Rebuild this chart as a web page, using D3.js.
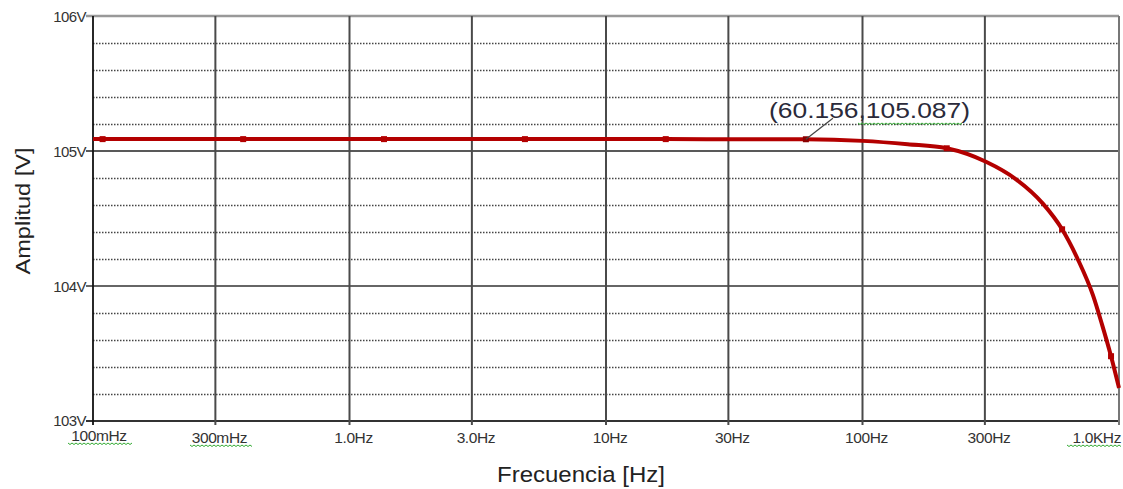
<!DOCTYPE html>
<html>
<head>
<meta charset="utf-8">
<script src="https://cdn.jsdelivr.net/npm/d3@7"></script>
<style>
  html, body { margin: 0; padding: 0; background: #fff; }
  svg { display: block; }
</style>
</head>
<body>
<svg id="chart" width="1123" height="489"></svg>
<script>
// ---- data ----
const freqs = [0.1, 0.109, 0.385, 1.363, 4.83, 17.1, 60.156, 100, 150, 213, 303, 397, 505, 600, 690, 792, 860, 931, 1000];
const amps  = [105.088, 105.088, 105.088, 105.088, 105.088, 105.088, 105.087, 105.075, 105.05, 105.02, 104.92, 104.79, 104.61, 104.42, 104.20, 103.93, 103.71, 103.48, 103.245];
const markerFreqs = [0.109, 0.385, 1.363, 4.83, 17.1, 60.156, 213, 600, 931];
const xTickValues = [0.1, 0.3, 1, 3, 10, 30, 100, 300, 1000];
const xTickLabels = ["100mHz", "300mHz", "1.0Hz", "3.0Hz", "10Hz", "30Hz", "100Hz", "300Hz", "1.0KHz"];
const yTickValues = [103, 104, 105, 106];
const yTickLabels = ["103V", "104V", "105V", "106V"];
const cursorFreq = 60.156;
const cursorAmp = 105.087;
const cursorLabel = "(60.156,105.087)";
const xTitle = "Frecuencia [Hz]";
const yTitle = "Amplitud [V]";

// ---- scales ----
const svg = d3.select("#chart");
const x = d3.scaleLog().domain([0.1, 1000]).range([93, 1119]);
const y = d3.scaleLinear().domain([103, 106]).range([421, 16]);

const font = "'Liberation Sans', Arial, sans-serif";

// minor dotted grid
const minor = d3.range(103.2, 106, 0.2).filter(v => Math.abs(v - Math.round(v)) > 0.01);
svg.append("g").selectAll("line").data(minor).join("line")
  .attr("x1", x(0.1)).attr("x2", x(1000))
  .attr("y1", d => Math.round(y(d)) + 0.5).attr("y2", d => Math.round(y(d)) + 0.5)
  .attr("stroke", "#444").attr("stroke-width", 1.6).attr("stroke-dasharray", "1.5,1.5");

// major horizontal grid
const majorStyle = {103: ["#333", 2], 104: ["#666", 2.2], 105: ["#222", 1.3], 106: ["#999", 2.4]};
svg.append("g").selectAll("line").data(yTickValues).join("line")
  .attr("x1", 86).attr("x2", x(1000))
  .attr("y1", d => y(d)).attr("y2", d => y(d))
  .attr("stroke", d => majorStyle[d][0]).attr("stroke-width", d => majorStyle[d][1]);

// vertical grid
svg.append("g").selectAll("line").data(xTickValues).join("line")
  .attr("x1", d => x(d)).attr("x2", d => x(d))
  .attr("y1", y(106)).attr("y2", 425)
  .attr("stroke", (d, i) => i === 0 ? "#111" : (i === xTickValues.length - 1 ? "#777" : "#4a4a4a"))
  .attr("stroke-width", (d, i) => i === 0 ? 1.8 : 2);

// y tick labels
svg.append("g").selectAll("text").data(yTickValues).join("text")
  .attr("x", 86).attr("y", d => y(d) - (d === 103 ? 1 : 0))
  .attr("text-anchor", "end").attr("dominant-baseline", "central")
  .attr("font-family", font).attr("font-size", 15).attr("fill", "#333")
  .attr("letter-spacing", -0.6)
  .text((d, i) => yTickLabels[i]);

// x tick labels
svg.append("g").selectAll("text").data(xTickValues).join("text")
  .attr("x", (d, i) => i === xTickValues.length - 1 ? 1121 : x(d) + (i === 0 ? 6 : 4))
  .attr("y", (d, i) => i === 0 ? 441 : 443)
  .attr("text-anchor", (d, i) => i === xTickValues.length - 1 ? "end" : "middle")
  .attr("font-family", font).attr("font-size", 15.5).attr("fill", "#333")
  .attr("letter-spacing", -0.4)
  .text((d, i) => xTickLabels[i]);

// axis titles
svg.append("text")
  .attr("x", 581).attr("y", 482)
  .attr("text-anchor", "middle")
  .attr("font-family", font).attr("font-size", 22).attr("fill", "#222")
  .attr("textLength", 168).attr("lengthAdjust", "spacingAndGlyphs")
  .text(xTitle);
svg.append("text")
  .attr("transform", "translate(30,211) rotate(-90)")
  .attr("text-anchor", "middle")
  .attr("font-family", font).attr("font-size", 21).attr("fill", "#222")
  .attr("textLength", 127).attr("lengthAdjust", "spacingAndGlyphs")
  .text(yTitle);

// curve
const pts = freqs.map((f, i) => [f, amps[i]]);
svg.append("path").datum(pts)
  .attr("fill", "none").attr("stroke", "#b30000").attr("stroke-width", 4)
  .attr("stroke-linejoin", "round")
  .attr("d", d3.line().x(d => x(d[0])).y(d => y(d[1])).curve(d3.curveMonotoneX));

// markers
const ampAt = f => amps[freqs.indexOf(f)];
svg.append("g").selectAll("rect").data(markerFreqs).join("rect")
  .attr("x", d => x(d) - 3).attr("y", d => y(ampAt(d)) - 3)
  .attr("width", 6).attr("height", 6)
  .attr("fill", d => d === cursorFreq ? "#8a0000" : "#b30000");

// cursor annotation
svg.append("line")
  .attr("x1", x(cursorFreq)).attr("y1", y(cursorAmp))
  .attr("x2", x(cursorFreq) + 27).attr("y2", y(cursorAmp) - 21)
  .attr("stroke", "#444").attr("stroke-width", 1.2);
svg.append("text")
  .attr("x", 769).attr("y", 118)
  .attr("font-family", font).attr("font-size", 22).attr("fill", "#2a2a3a")
  .attr("textLength", 201).attr("lengthAdjust", "spacingAndGlyphs")
  .text(cursorLabel);

// green squiggles (spell-check underlines)
const squiggles = [[858, 962, 123], [68, 131, 443], [190, 251, 445], [1067, 1120, 445]];
const sq = ([x0, x1, yy]) => {
  let p = `M${x0},${yy}`;
  for (let xx = x0, k = 0; xx < x1; xx += 2, k++) p += `L${xx + 2},${yy + (k % 2 === 0 ? 1.5 : 0)}`;
  return p;
};
svg.append("g").selectAll("path").data(squiggles).join("path")
  .attr("d", sq).attr("fill", "none").attr("stroke", "#3a3").attr("stroke-width", 1);
</script>
</body>
</html>
